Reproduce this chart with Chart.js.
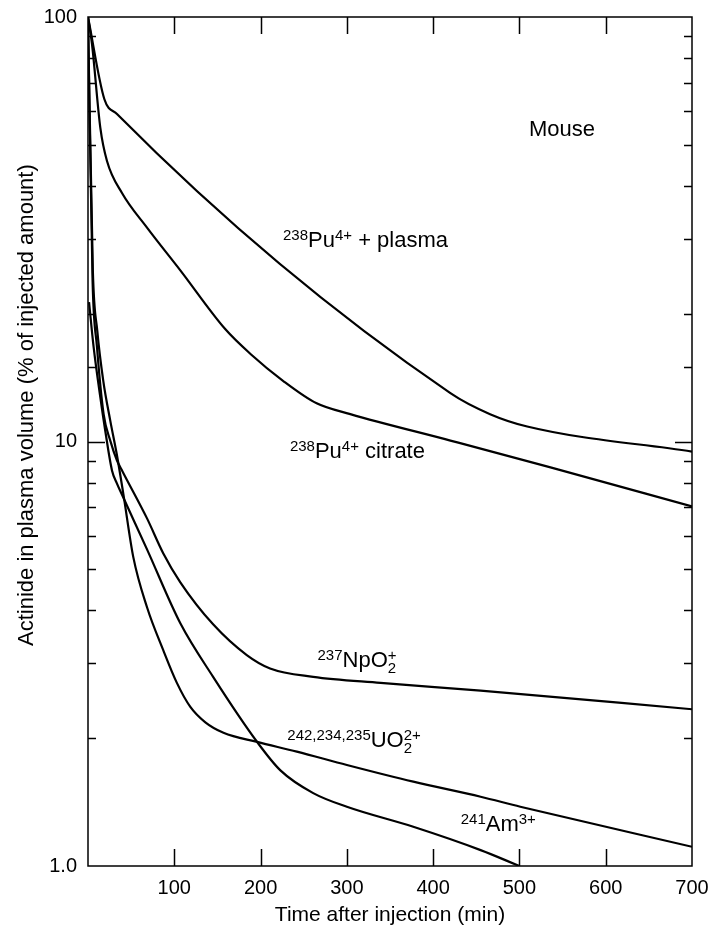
<!DOCTYPE html>
<html>
<head>
<meta charset="utf-8">
<title>Actinide in plasma volume - mouse</title>
<script src="https://cdn.jsdelivr.net/npm/chart.js@4.4.0/dist/chart.umd.min.js"></script>
<style>
  html, body { margin: 0; padding: 0; background: #fff; }
  #wrap { width: 710px; height: 928px; }
</style>
</head>
<body>
<div id="wrap"><canvas id="chart"></canvas></div>
<script>
const FONT = "'Liberation Sans', Arial, Helvetica, sans-serif";

// time after injection (min) and % of injected amount left in plasma
const puPlasmaT = [0, 18.9, 33.6, 420, 466, 509, 700];
const puPlasmaV = [100, 64.1, 59.1, 13.0, 11.6, 10.85, 9.47];

const puCitrateT = [0, 4.6, 14.3, 22, 39.4, 68.4, 107, 159, 188, 226, 265, 304, 420, 536, 700];
const puCitrateV = [100, 86.4, 54.8, 45.8, 38.5, 31.9, 25.3, 18.4, 16.1, 13.9, 12.3, 11.6, 10.05, 8.69, 7.03];

const npT = [0, 5.3, 10.4, 18.1, 25.8, 33.6, 40, 68.4, 87.3, 107, 145, 184, 211, 261, 339, 455, 700];
const npV = [100, 23.9, 16.7, 11.6, 10.05, 9.02, 8.5, 6.59, 5.45, 4.66, 3.71, 3.14, 2.92, 2.79, 2.70, 2.59, 2.34];

const uT = [0, 5.6, 10.8, 17.7, 25.8, 33.6, 40.9, 52.5, 68.4, 87.3, 103, 118.6, 136, 157, 196, 242, 300, 377, 455, 501, 700];
const uV = [100, 25.3, 18.2, 13.9, 11.2, 9.27, 7.54, 5.34, 4.07, 3.22, 2.70, 2.37, 2.18, 2.06, 1.96, 1.86, 1.73, 1.58, 1.456, 1.379, 1.11];

const amT = [1.2, 6.5, 14.3, 20, 27.8, 33.6, 40.9, 68.4, 107, 145, 196, 223, 261, 300, 377, 455, 500];
const amV = [21.3, 16.7, 12.7, 10.6, 8.55, 7.96, 7.38, 5.57, 3.73, 2.79, 1.96, 1.68, 1.485, 1.379, 1.237, 1.09, 1.0];

const yTickText = { 1: "1.0", 10: "10", 100: "100" };
const yTitle = "Actinide in plasma volume (% of injected amount)";

// curve labels: pieces of text, [text, kind] where kind is sup / stack(sup over sub)
const labelParts = [
  [["238", "sup"], ["Pu"], ["4+", "sup"], [" + plasma"]],
  [["238", "sup"], ["Pu"], ["4+", "sup"], [" citrate"]],
  [["237", "sup"], ["NpO"], ["+", "stack", "2"]],
  [["242,234,235", "sup"], ["UO"], ["2+", "stack", "2"]],
  [["241", "sup"], ["Am"], ["3+", "sup"]],
  [["Mouse"]]
];
// where each label starts (x, baseline), in data units
const labelX = [226, 234, 266, 231, 432, 511];
const labelY = [28.7, 9.12, 2.94, 1.91, 1.21, 52.5];

function pts(t, v) {
  return t.map((x, i) => ({ x: x, y: v[i] }));
}

function drawLabel(ctx, x, y, parts) {
  const big = "22px " + FONT, small = "15px " + FONT;
  let cx = x;
  parts.forEach(p => {
    if (p[1] === "sup") {
      ctx.font = small;
      ctx.fillText(p[0], cx, y - 7);
      cx += ctx.measureText(p[0]).width;
    } else if (p[1] === "stack") {
      ctx.font = small;
      ctx.fillText(p[0], cx, y - 7);
      ctx.fillText(p[2], cx, y + 6);
      cx += Math.max(ctx.measureText(p[0]).width, ctx.measureText(p[2]).width);
    } else {
      ctx.font = big;
      ctx.fillText(p[0], cx, y);
      cx += ctx.measureText(p[0]).width;
    }
  });
}

const frameAndTicks = {
  id: "frameAndTicks",
  afterDraw(chart) {
    const { ctx, chartArea: a, scales: { x, y } } = chart;
    ctx.save();
    ctx.strokeStyle = "#000";
    ctx.lineWidth = 1.5;
    ctx.strokeRect(a.left, a.top, a.right - a.left, a.bottom - a.top);

    ctx.beginPath();
    x.ticks.forEach(t => {
      if (t.value <= x.min || t.value >= x.max) return;
      const px = Math.round(x.getPixelForValue(t.value)) + 0.5;
      ctx.moveTo(px, a.bottom); ctx.lineTo(px, a.bottom - 17);
      ctx.moveTo(px, a.top); ctx.lineTo(px, a.top + 17);
    });
    y.ticks.forEach(t => {
      if (t.value <= y.min || t.value >= y.max) return;
      const py = Math.round(y.getPixelForValue(t.value)) + 0.5;
      const lg = Math.log10(t.value);
      const len = Math.abs(lg - Math.round(lg)) < 1e-9 ? 17 : 8;
      ctx.moveTo(a.left, py); ctx.lineTo(a.left + len, py);
      ctx.moveTo(a.right, py); ctx.lineTo(a.right - len, py);
    });
    ctx.stroke();

    ctx.fillStyle = "#000";
    ctx.textBaseline = "alphabetic";
    ctx.textAlign = "left";
    labelParts.forEach((parts, i) => {
      drawLabel(ctx, x.getPixelForValue(labelX[i]), y.getPixelForValue(labelY[i]), parts);
    });

    // y title sits high in the original, its end level with ~45%
    ctx.translate(27, y.getPixelForValue(45));
    ctx.rotate(-Math.PI / 2);
    ctx.font = "22px " + FONT;
    ctx.textAlign = "right";
    ctx.textBaseline = "middle";
    ctx.fillText(yTitle, 0, 0);
    ctx.restore();
  }
};

function lineSet(label, data) {
  return {
    label: label,
    data: data,
    borderColor: "#000",
    borderWidth: 2.2,
    pointRadius: 0,
    fill: false,
    cubicInterpolationMode: "monotone"
  };
}

new Chart(document.getElementById("chart"), {
  type: "line",
  data: {
    datasets: [
      lineSet("238Pu4+ + plasma", pts(puPlasmaT, puPlasmaV)),
      lineSet("238Pu4+ citrate", pts(puCitrateT, puCitrateV)),
      lineSet("237NpO2+", pts(npT, npV)),
      lineSet("242,234,235UO2 2+", pts(uT, uV)),
      lineSet("241Am3+", pts(amT, amV))
    ]
  },
  options: {
    responsive: true,
    maintainAspectRatio: false,
    animation: false,
    devicePixelRatio: 1,
    layout: { padding: { top: 17, right: 18, left: 0, bottom: 0 } },
    plugins: { legend: { display: false }, tooltip: { enabled: false } },
    scales: {
      x: {
        type: "linear",
        min: 0,
        max: 700,
        afterFit: s => { s.height = 62; s.paddingLeft = 0; s.paddingRight = 0; },
        grid: { display: false, drawTicks: false },
        border: { display: false },
        ticks: {
          stepSize: 100,
          padding: 10,
          color: "#000",
          font: { family: FONT, size: 20 },
          callback: v => (v === 0 ? "" : String(v))
        },
        title: {
          display: true,
          text: "Time after injection (min)",
          color: "#000",
          font: { family: FONT, size: 21 },
          padding: { top: 0, bottom: 0 }
        }
      },
      y: {
        type: "logarithmic",
        min: 1,
        max: 100,
        afterFit: s => { s.width = 88; s.paddingTop = 0; s.paddingBottom = 0; },
        grid: { display: false, drawTicks: false },
        border: { display: false },
        ticks: {
          autoSkip: false,
          padding: 11,
          color: "#000",
          font: { family: FONT, size: 20 },
          callback: v => yTickText[v] || ""
        }
      }
    }
  },
  plugins: [frameAndTicks]
});
</script>
</body>
</html>
